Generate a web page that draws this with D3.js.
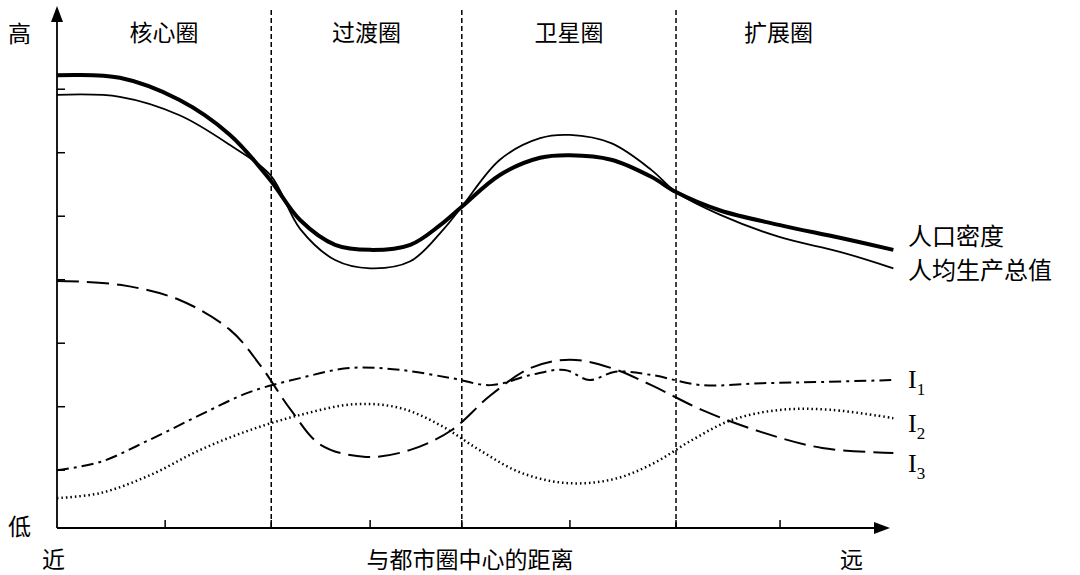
<!DOCTYPE html><html><head><meta charset="utf-8">
<script src="https://cdn.jsdelivr.net/npm/d3@7"></script>
<style>body{margin:0;background:#fff}</style></head><body>
<svg id="c" width="1080" height="575"></svg>
<script>
// data in chart units (x: distance 0..8, y: level 0..8)
const zones=["核心圈","过渡圈","卫星圈","扩展圈"];
const zoneBounds=[2.08,3.93,6.01];
const xTicks=[1.05,2.08,3.04,3.93,4.98,6.01,7.02];
const yTicks=[0.91,1.91,2.91,3.91,4.91,5.91,6.91];
const popX=[0,0.61,1.19,1.68,2.07,2.36,2.7,3.04,3.43,3.72,3.93,4.3,4.69,4.98,5.38,5.77,6.01,6.44,7.02,7.6,8.12];
const popY=[7.13,7.09,6.74,6.19,5.48,4.85,4.46,4.38,4.46,4.77,5.06,5.56,5.83,5.87,5.8,5.53,5.29,5.0,4.77,4.57,4.38];
const gdpX=[0,0.61,1.19,1.68,2.07,2.36,2.7,3.04,3.43,3.75,3.93,4.3,4.69,4.98,5.38,5.77,6.01,6.44,7.02,7.6,8.12];
const gdpY=[6.82,6.79,6.5,6.03,5.56,4.71,4.22,4.09,4.2,4.7,5.06,5.8,6.14,6.19,6.06,5.64,5.29,4.93,4.58,4.35,4.09];
const i3X=[0,0.61,1.19,1.68,1.97,2.27,2.56,3.0,3.43,3.83,4.21,4.6,4.98,5.38,5.77,6.26,6.84,7.43,8.12];
const i3Y=[3.89,3.83,3.59,3.12,2.57,1.86,1.31,1.12,1.23,1.54,2.09,2.52,2.65,2.52,2.25,1.86,1.51,1.26,1.18];
const i1X=[0,0.42,0.9,1.39,1.87,2.36,2.84,3.33,3.83,4.21,4.6,4.93,5.17,5.42,5.77,6.26,6.84,7.43,8.12];
const i1Y=[0.91,1.04,1.39,1.78,2.14,2.36,2.52,2.49,2.36,2.25,2.41,2.49,2.33,2.46,2.41,2.25,2.28,2.3,2.33];
const i2X=[0,0.42,0.9,1.39,1.87,2.36,2.89,3.33,3.72,4.1,4.49,4.93,5.38,5.77,6.17,6.55,7.02,7.52,8.12];
const i2Y=[0.47,0.55,0.83,1.23,1.54,1.78,1.95,1.89,1.62,1.23,0.88,0.71,0.76,1.0,1.39,1.7,1.86,1.86,1.73];
const series=[
 {name:"人口密度",x:popX,y:popY,w:4,dash:null,ly:237},
 {name:"人均生产总值",x:gdpX,y:gdpY,w:1.8,dash:null,ly:271},
 {name:"I",sub:"1",x:i1X,y:i1Y,w:2,dash:"12,5,3,5",ly:380},
 {name:"I",sub:"2",x:i2X,y:i2Y,w:2.5,dash:"1.5,3",ly:424},
 {name:"I",sub:"3",x:i3X,y:i3Y,w:2,dash:"22,8",ly:464}
];
const svg=d3.select("#c");
const x=d3.scaleLinear().domain([0,8]).range([57,881]);
const y=d3.scaleLinear().domain([0,8]).range([528,20]);
const cjk="'Noto Sans CJK SC'";
svg.append("line").attr("x1",57).attr("y1",528).attr("x2",57).attr("y2",18).attr("stroke","#000").attr("stroke-width",1.8);
svg.append("path").attr("d","M51,22 L57,6 L63,22 Z").attr("fill","#000");
svg.append("line").attr("x1",57).attr("y1",528).attr("x2",878).attr("y2",528).attr("stroke","#000").attr("stroke-width",1.8);
svg.append("path").attr("d","M874,522 L890,528 L874,534 Z").attr("fill","#000");
yTicks.forEach(t=>svg.append("line").attr("x1",57).attr("x2",65).attr("y1",y(t)).attr("y2",y(t)).attr("stroke","#000").attr("stroke-width",1.5));
xTicks.forEach(t=>svg.append("line").attr("x1",x(t)).attr("x2",x(t)).attr("y1",528).attr("y2",520).attr("stroke","#000").attr("stroke-width",1.5));
zoneBounds.forEach(b=>svg.append("line").attr("x1",x(b)).attr("x2",x(b)).attr("y1",10).attr("y2",528).attr("stroke","#000").attr("stroke-width",1.5).attr("stroke-dasharray","5,3"));
const edges=[0,...zoneBounds,8];
zones.forEach((z,i)=>svg.append("text").attr("x",(x(edges[i])+x(edges[i+1]))/2).attr("y",41).attr("text-anchor","middle").attr("font-family",cjk).attr("font-size",23).text(z));
const txt=(t,px,py,a)=>svg.append("text").attr("x",px).attr("y",py).attr("text-anchor",a||"start").attr("font-family",cjk).attr("font-size",23).text(t);
txt("高",8,42);txt("低",8,535);txt("近",42,568);txt("远",840,568);txt("与都市圈中心的距离",470,568,"middle");
const line=d3.line().curve(d3.curveCatmullRom.alpha(0.5));
series.forEach(s=>{
 const pts=s.x.map((v,i)=>[x(v),y(s.y[i])]);
 svg.append("path").attr("d",line(pts)).attr("fill","none").attr("stroke","#000").attr("stroke-width",s.w).attr("stroke-dasharray",s.dash);
 const t=svg.append("text").attr("x",908).attr("y",s.ly+8).attr("font-size",s.sub?26:24)
   .attr("font-family",s.sub?"'Liberation Serif'":cjk).text(s.name);
 if(s.sub) t.append("tspan").attr("font-size",17).attr("dy",7).text(s.sub);
});
</script></body></html>
